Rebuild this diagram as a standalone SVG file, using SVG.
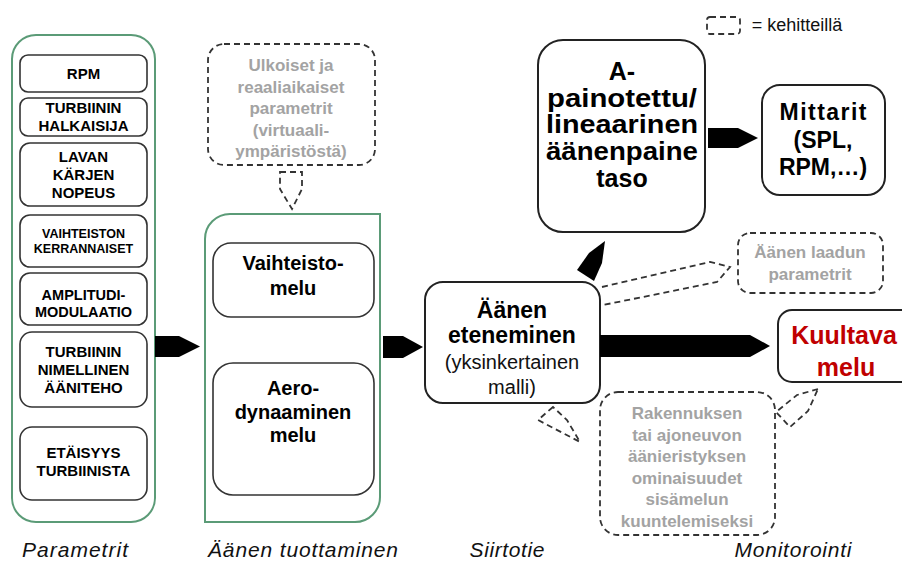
<svg xmlns="http://www.w3.org/2000/svg" width="902" height="562" viewBox="0 0 902 562">
<style>
text{font-family:"Liberation Sans",Arial,sans-serif;text-anchor:middle;}
.b{font-weight:bold;fill:#000;}
.g{font-weight:bold;fill:#a3a3a3;font-size:17px;}
.n{fill:#111;}
.it{font-style:italic;fill:#111;}
.l{font-size:15px;}
.box{fill:#fff;stroke:#333;stroke-width:1.6;}
.main{fill:#fff;stroke:#222;stroke-width:2;}
.green{fill:#fff;stroke:#5b9b77;stroke-width:2;}
.dash{fill:none;stroke:#333;stroke-width:1.8;stroke-dasharray:6 4;}
.arr{fill:#000;stroke:none;}
</style>
<rect width="902" height="562" fill="#fff"/>

<g id="legend">
<rect x="707" y="17" width="33" height="17" rx="3" class="dash"/>
<text x="797" y="31" class="n" style="font-size:18px">= kehitteillä</text>
</g>

<g id="parametrit">
<rect x="12" y="35" width="143" height="487" rx="24" class="green"/>
<g id="p-rpm"><rect x="20" y="55" width="127" height="37" rx="8" class="box"/>
<text x="83.5" y="79" class="b l">RPM</text></g>
<g id="p-halkaisija"><rect x="20" y="98" width="127" height="38" rx="8" class="box"/>
<text x="83.5" y="113" class="b l">TURBIININ</text>
<text x="83.5" y="131" class="b l">HALKAISIJA</text></g>
<g id="p-lavan"><rect x="20" y="143" width="127" height="63" rx="10" class="box"/>
<text x="83.5" y="162" class="b l">LAVAN</text>
<text x="83.5" y="180" class="b l">KÄRJEN</text>
<text x="83.5" y="198" class="b l">NOPEUS</text></g>
<g id="p-vaihteisto"><rect x="20" y="215" width="127" height="52" rx="10" class="box"/>
<text x="83.5" y="238" class="b" style="font-size:12.5px">VAIHTEISTON</text>
<text x="83.5" y="253" class="b" style="font-size:12.5px">KERRANNAISET</text></g>
<g id="p-amplitudi"><rect x="20" y="273" width="127" height="52" rx="10" class="box"/>
<text x="83.5" y="300" class="b" style="font-size:14.5px">AMPLITUDI-</text>
<text x="83.5" y="317" class="b" style="font-size:14.5px">MODULAATIO</text></g>
<g id="p-aaniteho"><rect x="20" y="332" width="127" height="75" rx="12" class="box"/>
<text x="83.5" y="357" class="b l">TURBIININ</text>
<text x="83.5" y="375" class="b l">NIMELLINEN</text>
<text x="83.5" y="393" class="b l">ÄÄNITEHO</text></g>
<g id="p-etaisyys"><rect x="20" y="427" width="127" height="73" rx="12" class="box"/>
<text x="83.5" y="458" class="b l">ETÄISYYS</text>
<text x="83.5" y="476" class="b l">TURBIINISTA</text></g>
</g>

<g id="ulkoiset">
<rect x="208" y="44" width="167" height="121" rx="16" class="dash"/>
<text x="291" y="71" class="g">Ulkoiset ja</text>
<text x="291" y="93" class="g">reaaliaikaiset</text>
<text x="291" y="114" class="g">parametrit</text>
<text x="291" y="136" class="g">(virtuaali-</text>
<text x="291" y="157" class="g">ympäristöstä)</text>
</g>

<g id="tuottaminen">
<path d="M205,522 V239 A25,25 0 0 1 230,214 H380 V497 A25,25 0 0 1 355,522 Z" class="green"/>
<g id="vaihteistomelu"><rect x="213" y="243" width="161" height="74" rx="18" class="box"/>
<text x="293" y="270" class="b" style="font-size:20px">Vaihteisto-</text>
<text x="293" y="295" class="b" style="font-size:20px">melu</text></g>
<g id="aerodynaaminen"><rect x="213" y="363" width="161" height="132" rx="20" class="box"/>
<text x="293" y="395" class="b" style="font-size:20px">Aero-</text>
<text x="293" y="419" class="b" style="font-size:20px">dynaaminen</text>
<text x="293" y="442" class="b" style="font-size:20px">melu</text></g>
</g>

<g id="eteneminen">
<rect x="425" y="282" width="175" height="121" rx="18" class="main"/>
<text x="512" y="318" class="b" style="font-size:23px">Äänen</text>
<text x="512" y="343" class="b" style="font-size:23px">eteneminen</text>
<text x="512" y="369" class="n" style="font-size:20px">(yksinkertainen</text>
<text x="512" y="394" class="n" style="font-size:20px">malli)</text>
</g>

<g id="apainotettu">
<rect x="538" y="40" width="167" height="192" rx="25" class="main"/>
<text x="622" y="80" class="b" style="font-size:25px">A-</text>
<text x="622" y="107" class="b" style="font-size:25px" textLength="150" lengthAdjust="spacingAndGlyphs">painotettu/</text>
<text x="622" y="133" class="b" style="font-size:25px" textLength="152" lengthAdjust="spacingAndGlyphs">lineaarinen</text>
<text x="622" y="160" class="b" style="font-size:25px" textLength="152" lengthAdjust="spacingAndGlyphs">äänenpaine</text>
<text x="622" y="187" class="b" style="font-size:25px">taso</text>
</g>

<g id="mittarit">
<rect x="762" y="85" width="123" height="110" rx="18" class="main"/>
<text x="823" y="120" class="b" style="font-size:23px" textLength="87">Mittarit</text>
<text x="823" y="148" class="b" style="font-size:23px">(SPL,</text>
<text x="823" y="175" class="b" style="font-size:23px">RPM,…)</text>
</g>

<g id="laadun">
<rect x="738" y="233" width="145" height="60" rx="12" class="dash"/>
<text x="810" y="258" class="g">Äänen laadun</text>
<text x="810" y="280" class="g">parametrit</text>
</g>

<g id="kuultava">
<rect x="778" y="310" width="140" height="72" rx="14" class="main"/>
<text x="844" y="344" style="font-size:25px;font-weight:bold;fill:#c00000">Kuultava</text>
<text x="846" y="376" style="font-size:25px;font-weight:bold;fill:#c00000">melu</text>
</g>

<g id="rakennuksen">
<rect x="600" y="392" width="175" height="143" rx="18" class="dash"/>
<text x="687" y="419" class="g">Rakennuksen</text>
<text x="687" y="441" class="g">tai ajoneuvon</text>
<text x="687" y="462" class="g">äänieristyksen</text>
<text x="687" y="484" class="g">ominaisuudet</text>
<text x="687" y="505" class="g">sisämelun</text>
<text x="687" y="527" class="g">kuuntelemiseksi</text>
</g>

<g id="connectors">
<polygon class="arr" points="155,336 179,336 200,346.5 179,357 155,357"/>
<polygon class="arr" points="383,336 403,336 423,347 403,358 383,358"/>
<polygon class="arr" points="600,335 750,335 770,346 750,357 600,357"/>
<polygon class="arr" points="708,128 738,128 758,138 738,148 708,148"/>
<polygon class="arr" points="577,270 589,253 605,241 602,263 594,281"/>
<path class="dash" d="M280,172 H302 V189 L292,209 L280,189 Z"/>
<path class="dash" d="M602,287 L710,262 L730,267 L717,282 L603,305"/>
<path class="dash" d="M553,407 L538,420 L580,442 L567,420 Z"/>
<path class="dash" d="M818,389 L797,395 L776,412 L790,427 L808,411 Z"/>
</g>

<g id="labels">
<text x="75" y="557" class="it" style="font-size:21px" textLength="106">Parametrit</text>
<text x="303" y="557" class="it" style="font-size:21px" textLength="190">Äänen tuottaminen</text>
<text x="507" y="557" class="it" style="font-size:21px" textLength="75">Siirtotie</text>
<text x="793" y="557" class="it" style="font-size:21px" textLength="117">Monitorointi</text>
</g>
</svg>
